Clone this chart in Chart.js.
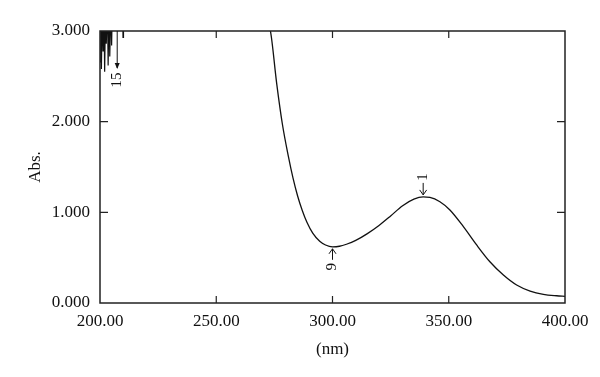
<!DOCTYPE html>
<html>
<head>
<meta charset="utf-8">
<script src="https://cdn.jsdelivr.net/npm/chart.js@4"></script>
<style>
  html, body { margin: 0; padding: 0; background: #fff; }
  #wrap { width: 600px; height: 377px; }
</style>
</head>
<body>
<div id="wrap"><canvas id="spectrum" width="600" height="377"></canvas></div>
<script>
// noisy start of the scan (detector saturated), straight spikes
const noiseNm = [
  200.0, 200.3, 200.6, 201.0, 201.3, 201.7, 202.0, 202.4, 202.7, 203.2,
  203.5, 203.9, 204.2, 204.7, 205.0, 205.3, 209.7, 209.9, 210.1
];
const noiseAbs = [
  2.66, 3.30, 2.58, 3.30, 2.78, 3.30, 2.55, 3.30, 2.86, 3.30,
  2.62, 3.30, 2.72, 3.30, 2.84, 3.30, 3.30, 2.93, 3.30
];

// wavelength (nm) and absorbance of the main band
const wavelengths = [
  210.1, 240.0, 270.0, 273.3, 276.0, 278.4, 281.0, 283.0, 285.0, 287.0,
  289.0, 291.5, 294.5, 297.0, 300.0, 303.0, 306.0, 310.0, 315.0, 320.0,
  325.0, 330.0, 335.0, 339.0, 341.9, 346.2, 350.5, 356.3, 362.0, 367.7,
  373.5, 379.2, 385.0, 390.7, 396.4, 400.0
];
const absorbance = [
  3.30, 3.40, 3.20, 3.00, 2.42, 1.98, 1.62, 1.38, 1.18, 1.02,
  0.89, 0.77, 0.68, 0.64, 0.62, 0.626, 0.648, 0.69, 0.765, 0.855,
  0.96, 1.07, 1.145, 1.17, 1.165, 1.117, 1.026, 0.842, 0.64, 0.455,
  0.309, 0.199, 0.132, 0.096, 0.08, 0.074
];

// peak-pick marks: number, position, arrow side
const pickNo = ["1", "9", "15"];
const pickNm = [339.0, 300.0, 207.4];
const pickAbs = [1.17, 0.62, 3.0];
const pickSide = ["above", "below", "top"];

const xTicks = [200, 250, 300, 350, 400];
const yTicks = [0, 1, 2, 3];

const serif = "'Liberation Serif', 'DejaVu Serif', serif";

function drawArrowHead(ctx, x, y, dir) {
  ctx.beginPath();
  ctx.moveTo(x - 3.5, y - 5 * dir);
  ctx.lineTo(x, y);
  ctx.lineTo(x + 3.5, y - 5 * dir);
  ctx.stroke();
}

function drawRotated(ctx, text, x, y) {
  ctx.save();
  ctx.translate(x, y);
  ctx.rotate(-Math.PI / 2);
  ctx.textAlign = "center";
  ctx.textBaseline = "middle";
  ctx.fillText(text, 0, 0);
  ctx.restore();
}

const framePlugin = {
  id: "frame-and-picks",
  afterDatasetsDraw(chart) {
    const { ctx, chartArea: a, scales } = chart;
    const xs = scales.x, ys = scales.y;
    ctx.save();
    ctx.strokeStyle = "#222";
    ctx.lineWidth = 1.5;
    ctx.strokeRect(a.left, a.top, a.right - a.left, a.bottom - a.top);

    // inward ticks on all four sides
    ctx.lineWidth = 1.2;
    ctx.beginPath();
    xTicks.slice(1, -1).forEach((v) => {
      const px = xs.getPixelForValue(v);
      ctx.moveTo(px, a.bottom); ctx.lineTo(px, a.bottom - 7);
      ctx.moveTo(px, a.top); ctx.lineTo(px, a.top + 7);
    });
    yTicks.slice(1, -1).forEach((v) => {
      const py = ys.getPixelForValue(v);
      ctx.moveTo(a.left, py); ctx.lineTo(a.left + 8, py);
      ctx.moveTo(a.right, py); ctx.lineTo(a.right - 8, py);
    });
    ctx.stroke();

    // peak / valley labels
    ctx.fillStyle = "#111";
    ctx.strokeStyle = "#111";
    ctx.lineWidth = 1;
    ctx.font = "15px " + serif;
    pickNo.forEach((label, i) => {
      const px = xs.getPixelForValue(pickNm[i]);
      const py = ys.getPixelForValue(pickAbs[i]);
      ctx.beginPath();
      if (pickSide[i] === "above") {
        ctx.moveTo(px, py - 2); ctx.lineTo(px, py - 14); ctx.stroke();
        drawArrowHead(ctx, px, py - 2, 1);
        drawRotated(ctx, label, px, py - 20);
      } else if (pickSide[i] === "below") {
        ctx.moveTo(px, py + 2); ctx.lineTo(px, py + 13); ctx.stroke();
        drawArrowHead(ctx, px, py + 2, -1);
        drawRotated(ctx, label, px, py + 20);
      } else {
        ctx.moveTo(px, py); ctx.lineTo(px, py + 37); ctx.stroke();
        ctx.beginPath();
        ctx.moveTo(px - 2.5, py + 32);
        ctx.lineTo(px, py + 38);
        ctx.lineTo(px + 2.5, py + 32);
        ctx.closePath();
        ctx.fill();
        drawRotated(ctx, label, px, py + 49);
      }
    });
    ctx.restore();
  },
};

new Chart(document.getElementById("spectrum"), {
  type: "line",
  data: {
    datasets: [
      {
        data: noiseNm.map((w, i) => ({ x: w, y: noiseAbs[i] })),
        borderColor: "#111",
        borderWidth: 1.2,
        pointRadius: 0,
        tension: 0,
        fill: false,
      },
      {
        data: wavelengths.map((w, i) => ({ x: w, y: absorbance[i] })),
        borderColor: "#111",
        borderWidth: 1.3,
        pointRadius: 0,
        cubicInterpolationMode: "monotone",
        fill: false,
      },
    ],
  },
  options: {
    responsive: false,
    animation: false,
    layout: { padding: { top: 31, right: 35, left: 0, bottom: 0 } },
    plugins: { legend: { display: false }, tooltip: { enabled: false } },
    scales: {
      x: {
        type: "linear",
        min: 200,
        max: 400,
        afterBuildTicks: (scale) => { scale.ticks = xTicks.map((v) => ({ value: v })); },
        afterFit: (scale) => { scale.height = 74; },
        grid: { display: false, drawTicks: false },
        border: { display: false },
        ticks: {
          padding: 8,
          color: "#111",
          maxRotation: 0,
          font: { family: serif, size: 17 },
          callback: (v) => Number(v).toFixed(2),
        },
        title: {
          display: true,
          text: "(nm)",
          color: "#111",
          font: { family: serif, size: 17 },
          padding: { top: 17, bottom: 17 },
        },
      },
      y: {
        min: 0,
        max: 3,
        afterBuildTicks: (scale) => { scale.ticks = yTicks.map((v) => ({ value: v })); },
        afterFit: (scale) => { scale.width = 100; },
        grid: { display: false, drawTicks: false },
        border: { display: false },
        ticks: {
          padding: 10,
          color: "#111",
          font: { family: serif, size: 17 },
          callback: (v) => Number(v).toFixed(3),
        },
        title: {
          display: true,
          text: "Abs.",
          color: "#111",
          font: { family: serif, size: 17 },
          padding: { top: 25, bottom: 25 },
        },
      },
    },
  },
  plugins: [framePlugin],
});
</script>
</body>
</html>
